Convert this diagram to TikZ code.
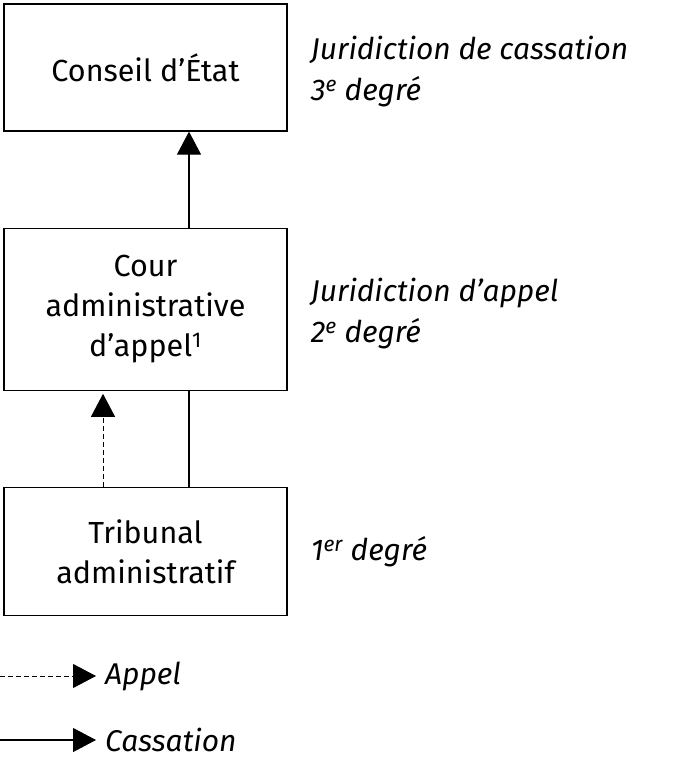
\documentclass[tikz,border=0pt]{standalone}
\usepackage{fontspec}
\setmainfont{Fira Sans}
\usetikzlibrary{arrows.meta, positioning}

\begin{document}
\begin{tikzpicture}[x=1pt, y=1pt, node distance=96pt,
    box/.style={rectangle, draw, line width=1.2pt, minimum width=283pt, align=center, inner sep=0pt, font=\fontsize{30.5}{40}\selectfont},
    lbl/.style={align=left, inner sep=0pt, font=\fontsize{30}{41}\selectfont\itshape},
    tip/.style={-{Triangle[width=24pt,length=23pt]}, line width=1.2pt},
    appelline/.style={dash pattern=on 5pt off 3pt, line width=1pt}]
    \useasboundingbox (0,0) rectangle (676,-769);
    \node (CE) [box, minimum height=127pt] at (145.5,-67.5) {Conseil d'État};
    \node (CAA) [box, minimum height=162pt, below=of CE] {Cour\\administrative\\d'appel\textsuperscript{1}};
    \node (TA) [box, minimum height=128pt, below=of CAA] {Tribunal\\administratif};

    \node (deg3) [lbl, right=23pt of CE, yshift=-4pt] {Juridiction de cassation\\3\textsuperscript{e} degré};
    \node (deg2) [lbl, right=23pt of CAA, yshift=-4pt] {Juridiction d'appel\\2\textsuperscript{e} degré};
    \node (deg1) [lbl, right=23pt of TA] {1\textsuperscript{er} degré};

    \draw [line width=1.2pt] ([xshift=43.5pt]TA.north) -- ([xshift=43.5pt]CAA.south);
    \draw [tip] ([xshift=43.5pt]CAA.north) -- ([xshift=43.5pt]CE.south);
    \draw [tip, appelline] ([xshift=-42.5pt]TA.north) -- ([xshift=-42.5pt,yshift=-3pt]CAA.south);

    \coordinate (a0) at (0,-676);
    \coordinate (c0) at (0,-740);
    \node (appel) [lbl, anchor=west] at (105,-676) {Appel};
    \node (cass) [lbl, anchor=west] at (105,-740) {Cassation};
    \draw [tip, appelline] (a0) -- ([xshift=-9pt]appel.west);
    \draw [tip] (c0) -- ([xshift=-9pt]cass.west);
\end{tikzpicture}
\end{document}
